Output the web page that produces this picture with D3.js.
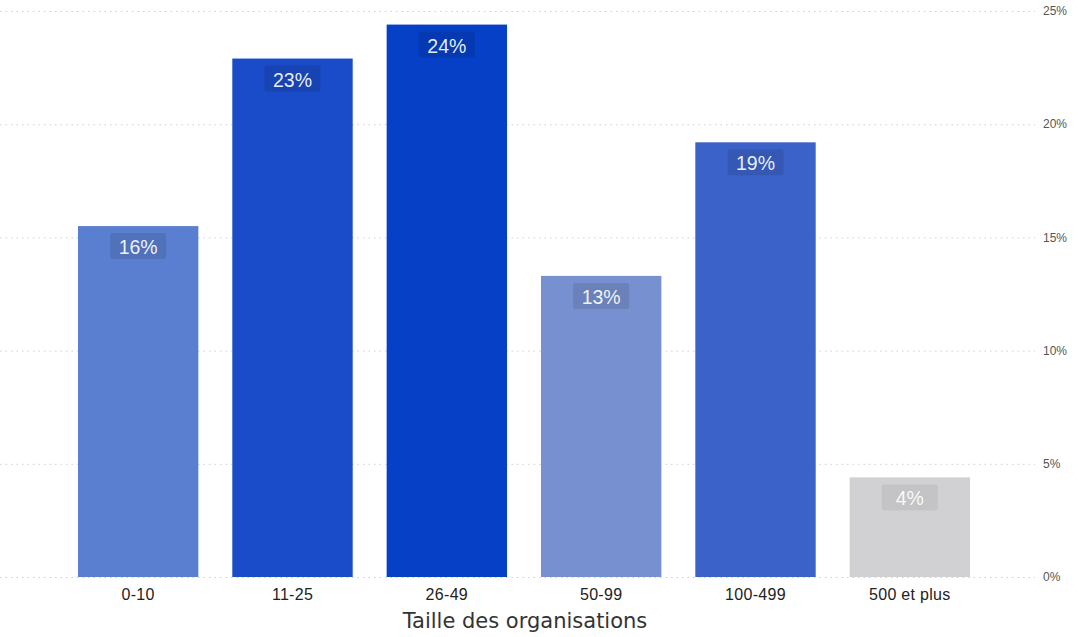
<!DOCTYPE html>
<html lang="fr">
<head>
  <meta charset="UTF-8">
  <title>Taille des organisations</title>
  <style>
    body { margin: 0; background: #fff; font-family: "Liberation Sans", Arial, sans-serif; }
    .grid line { stroke: #cfcfcf; stroke-dasharray: 1.5 4; }
    .grid path { display: none; }
  </style>
  <script src="https://d3js.org/d3.v7.min.js"></script>
</head>
<body>
  <div id="chart"></div>
  <script>
    const categories = ["0-10", "11-25", "26-49", "50-99", "100-499", "500 et plus"];
    const values = [15.5, 22.9, 24.4, 13.3, 19.2, 4.4];
    const labels = ["16%", "23%", "24%", "13%", "19%", "4%"];
    const colors = ["#5b7fd0", "#1a4bc8", "#0540c6", "#7690d0", "#3a62c8", "#d1d1d3"];
    const yTicks = [0, 5, 10, 15, 20, 25];

    const width = 1079, height = 637;
    const svg = d3.select("#chart").append("svg")
      .attr("width", width)
      .attr("height", height);

    const x = d3.scaleBand()
      .domain(categories)
      .range([61, 987])
      .paddingInner(0.22)
      .paddingOuter(0.11);

    const y = d3.scaleLinear()
      .domain([0, 25])
      .range([577, 11]);

    // dotted grid lines
    svg.append("g")
      .attr("class", "grid")
      .call(d3.axisRight(y).tickValues(yTicks).tickSize(1035).tickFormat(""))
      .call(g => g.select(".domain").remove());

    // right axis labels
    svg.append("g")
      .selectAll("text")
      .data(yTicks)
      .join("text")
      .attr("x", 1043)
      .attr("y", d => y(d))
      .attr("dy", "0.35em")
      .style("font-size", "12px")
      .style("fill", "#555")
      .text(d => d + "%");

    // bars
    svg.append("g")
      .selectAll("rect")
      .data(categories)
      .join("rect")
      .attr("x", d => x(d))
      .attr("y", (d, i) => y(values[i]))
      .attr("width", x.bandwidth())
      .attr("height", (d, i) => y(0) - y(values[i]))
      .attr("fill", (d, i) => colors[i]);

    // label boxes
    const lab = svg.append("g")
      .selectAll("g")
      .data(categories)
      .join("g")
      .attr("transform", (d, i) => `translate(${x(d) + x.bandwidth() / 2},${y(values[i]) + 7})`);

    lab.append("rect")
      .attr("x", -28)
      .attr("y", 0)
      .attr("width", 56)
      .attr("height", 26)
      .attr("rx", 2)
      .attr("fill", "#000")
      .attr("opacity", (d, i) => i === 5 ? 0.06 : 0.1);

    lab.append("text")
      .attr("y", 14)
      .attr("dy", "0.36em")
      .attr("text-anchor", "middle")
      .style("font-size", "19.5px")
      .style("fill", "#fff")
      .style("fill-opacity", 0.92)
      .text((d, i) => labels[i]);

    // x axis labels
    svg.append("g")
      .selectAll("text")
      .data(categories)
      .join("text")
      .attr("x", d => x(d) + x.bandwidth() / 2)
      .attr("y", 594)
      .attr("dy", "0.35em")
      .attr("text-anchor", "middle")
      .style("font-size", "16px")
      .style("letter-spacing", "0.3px")
      .style("fill", "#222")
      .text(d => d);

    svg.append("text")
      .attr("x", 525)
      .attr("y", 621)
      .attr("dy", "0.35em")
      .attr("text-anchor", "middle")
      .style("font-family", "'DejaVu Sans', sans-serif")
      .style("font-size", "21px")
      .style("fill", "#333")
      .text("Taille des organisations");
  </script>
</body>
</html>
